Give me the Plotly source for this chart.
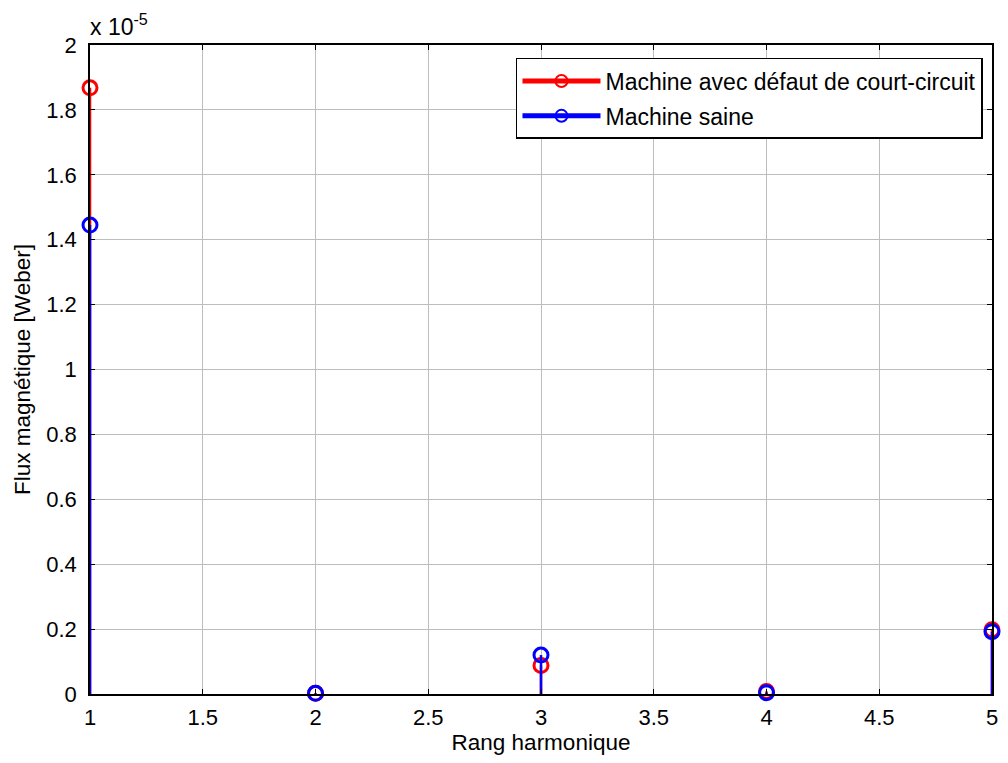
import plotly.graph_objects as go

# Data (flux in Weber)
harmonics = [1, 2, 3, 4, 5]
flux_fault = [1.868e-5, 0.002e-5, 0.088e-5, 0.008e-5, 0.198e-5]
flux_healthy = [1.445e-5, 0.002e-5, 0.120e-5, 0.004e-5, 0.192e-5]
series_names = ["Machine avec défaut de court-circuit", "Machine saine"]
series_colors = ["#ff0000", "#0000ff"]
SCALE = 1e-5
x_ticks = [1, 1.5, 2, 2.5, 3, 3.5, 4, 4.5, 5]
y_ticks = [0, 0.2, 0.4, 0.6, 0.8, 1, 1.2, 1.4, 1.6, 1.8, 2]

FONT = "Liberation Sans, Arial, sans-serif"


def stem(xs, vals):
    sx, sy, ss = [], [], []
    for x, v in zip(xs, vals):
        sx += [x, x, None]
        sy += [0, v / SCALE, None]
        ss += [0, 14, 0]
    return sx, sy, ss


fig = go.Figure()
for i, (name, vals, col) in enumerate(zip(series_names, [flux_fault, flux_healthy], series_colors)):
    sx, sy, ss = stem(harmonics, vals)
    fig.add_trace(go.Scatter(
        x=sx, y=sy, mode="lines+markers", name=name, legendgroup=f"g{i}",
        line=dict(color=col, width=2.5),
        marker=dict(symbol="circle-open", size=ss, color=col, opacity=1,
                    line=dict(width=3, color=col)),
        connectgaps=False, cliponaxis=False,
    ))

axis_common = dict(
    showline=True, linecolor="black", linewidth=1.5, mirror="ticks",
    ticks="inside", ticklen=5, tickcolor="black",
    showgrid=True, gridcolor="#bdbdbd", gridwidth=1, zeroline=False,
    tickfont=dict(family=FONT, size=22, color="black"),
)

fig.update_layout(
    width=1008, height=763,
    margin=dict(l=90, r=10, t=45, b=69),
    paper_bgcolor="white", plot_bgcolor="white",
    font=dict(family=FONT, size=22, color="black"),
    showlegend=True,
    legend=dict(
        x=0.99, y=0.98, xanchor="right", yanchor="top",
        bgcolor="white", bordercolor="black", borderwidth=1.5,
        font=dict(family=FONT, size=23, color="black"),
        itemsizing="constant", itemwidth=78, traceorder="grouped", tracegroupgap=2,
    ),
    xaxis=dict(
        range=[1, 5], tickvals=x_ticks, ticktext=[f"{t:g}" for t in x_ticks],
        ticklabelstandoff=3,
        title=dict(text="Rang harmonique", font=dict(family=FONT, size=22.5), standoff=4),
        **axis_common,
    ),
    yaxis=dict(
        range=[0, 2], tickvals=y_ticks, ticktext=[f"{t:g}" for t in y_ticks],
        ticklabelstandoff=7,
        title=dict(text="Flux magnétique [Weber]", font=dict(family=FONT, size=22.5), standoff=9),
        **axis_common,
    ),
    annotations=[dict(
        text="x 10<sup>-5</sup>", xref="paper", yref="paper", x=0, y=1,
        xanchor="left", yanchor="bottom", showarrow=False, yshift=3, xshift=-2,
        font=dict(family=FONT, size=23, color="black"),
    )],
)

fig.write_html("out.html")
